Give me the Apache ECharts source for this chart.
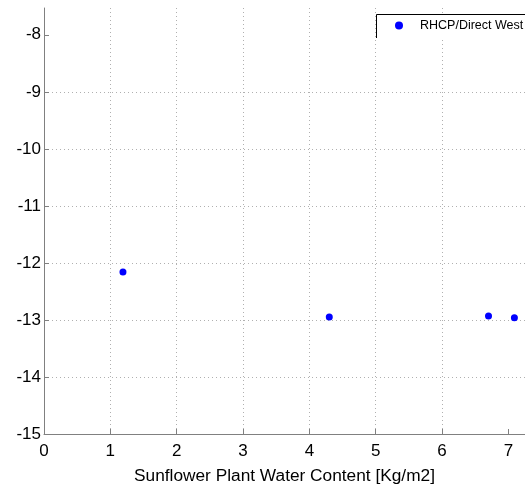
<!DOCTYPE html>
<html><head><meta charset="utf-8">
<script src="https://cdn.jsdelivr.net/npm/echarts@6/dist/echarts.min.js"></script>
<style>html,body{margin:0;padding:0;background:#fff}#c{width:525px;height:486px}</style>
</head><body><div id="c"></div>
<script>
const seriesName = 'RHCP/Direct West';
const waterContent = [1.19, 4.30, 6.70, 7.09];
const backscatter = [-12.16, -12.95, -12.93, -12.96];
const xTicks = [0, 1, 2, 3, 4, 5, 6, 7];
const yTicks = [-15, -14, -13, -12, -11, -10, -9, -8];
const xTitle = 'Sunflower Plant Water Content [Kg/m2]';

const chart = echarts.init(document.getElementById('c'), null, {renderer: 'canvas'});
const font = 'Liberation Sans, Arial, sans-serif';
chart.setOption({
  animation: false,
  backgroundColor: '#fff',
  grid: {left: 44, top: 8, right: 0, bottom: 52, outerBoundsMode: 'none', containLabel: false},
  graphic: [{
    type: 'rect', z: 100,
    shape: {x: 376.5, y: 14.5, width: 200, height: 24},
    style: {fill: '#fff', stroke: null}
  }, {
    type: 'polyline', z: 101,
    shape: {points: [[376.5, 38], [376.5, 14.5], [600, 14.5]]},
    style: {fill: null, stroke: '#000', lineWidth: 1}
  }],
  legend: {
    left: 395, top: 19, orient: 'vertical', z: 110,
    data: [seriesName],
    icon: 'circle', itemWidth: 8, itemHeight: 8,
    padding: 0, itemGap: 5,
    textStyle: {fontFamily: font, fontSize: 12.5, color: '#000', padding: [0, 0, 0, 12], overflow: 'none'}
  },
  xAxis: {
    type: 'value', min: 0, max: 7.25, interval: 1,
    name: xTitle, nameLocation: 'middle', nameGap: 34,
    nameTextStyle: {fontFamily: font, fontSize: 17.3, color: '#000'},
    axisLine: {show: true, onZero: false, lineStyle: {color: '#808080', width: 1}},
    axisTick: {show: true, inside: true, length: 5, customValues: xTicks, lineStyle: {color: '#808080'}},
    axisLabel: {fontFamily: font, fontSize: 17, color: '#000', margin: 9, customValues: xTicks},
    splitLine: {show: true, showMaxLine: false, lineStyle: {color: '#b0b0b0', type: [1, 3], width: 1}}
  },
  yAxis: {
    type: 'value', min: -15, max: -7.53, interval: 1,
    axisLine: {show: true, onZero: false, lineStyle: {color: '#808080', width: 1}},
    axisTick: {show: true, inside: true, length: 5, customValues: yTicks, lineStyle: {color: '#808080'}},
    axisLabel: {fontFamily: font, fontSize: 17, color: '#000', margin: 3, customValues: yTicks},
    splitLine: {show: true, showMaxLine: false, lineStyle: {color: '#b0b0b0', type: [1, 3], width: 1}}
  },
  series: [{
    name: seriesName, type: 'scatter',
    symbol: 'circle', symbolSize: 7,
    itemStyle: {color: '#0000ff', opacity: 1},
    data: waterContent.map((x, i) => [x, backscatter[i]])
  }]
});
</script></body></html>
